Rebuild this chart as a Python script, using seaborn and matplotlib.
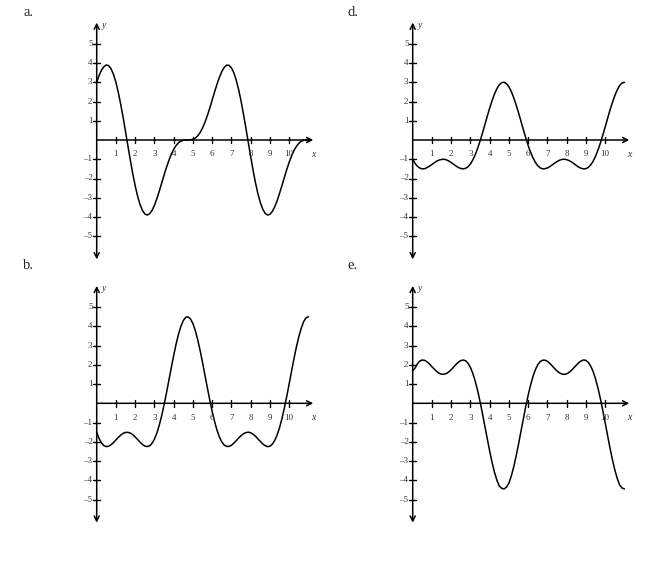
import matplotlib
matplotlib.use('Agg')
import matplotlib.pyplot as plt
import seaborn as sns
import pandas as pd

# sample positions along x: quarter steps and the points halfway between them
x_quarter = [0.0, 0.25, 0.5, 0.75, 1.0, 1.25, 1.5, 1.75, 2.0, 2.25, 2.5, 2.75,
             3.0, 3.25, 3.5, 3.75, 4.0, 4.25, 4.5, 4.75, 5.0, 5.25, 5.5, 5.75,
             6.0, 6.25, 6.5, 6.75, 7.0, 7.25, 7.5, 7.75, 8.0, 8.25, 8.5, 8.75,
             9.0, 9.25, 9.5, 9.75, 10.0, 10.25, 10.5, 10.75, 11.0]
x_mid = [0.125, 0.375, 0.625, 0.875, 1.125, 1.375, 1.625, 1.875, 2.125, 2.375, 2.625,
         2.875, 3.125, 3.375, 3.625, 3.875, 4.125, 4.375, 4.625, 4.875, 5.125, 5.375,
         5.625, 5.875, 6.125, 6.375, 6.625, 6.875, 7.125, 7.375, 7.625, 7.875, 8.125,
         8.375, 8.625, 8.875, 9.125, 9.375, 9.625, 9.875, 10.125, 10.375, 10.625, 10.875]

# curve values
curve_a_q = [3.00, 3.63, 3.90, 3.69, 2.99, 1.84, 0.42, -1.06, -2.38, -3.35, -3.84, -3.83,
             -3.39, -2.66, -1.82, -1.06, -0.48, -0.14, -0.01, 0.00, 0.04, 0.22, 0.63, 1.27,
             2.08, 2.90, 3.56, 3.89, 3.75, 3.10, 2.02, 0.62, -0.87, -2.23, -3.25, -3.81,
             -3.86, -3.47, -2.77, -1.94, -1.15, -0.54, -0.17, -0.02, 0.00]
curve_a_m = [3.35, 3.81, 3.86, 3.40, 2.46, 1.16, -0.33, -1.76, -2.92, -3.66, -3.90,
             -3.66, -3.05, -2.24, -1.42, -0.74, -0.28, -0.06, 0.00, 0.01, 0.10, 0.39,
             0.93, 1.66, 2.50, 3.26, 3.77, 3.88, 3.49, 2.61, 1.34, -0.13, -1.58,
             -2.79, -3.59, -3.90, -3.71, -3.15, -2.36, -1.53, -0.82, -0.33, -0.07, 0.00]

curve_b_q = [-1.50, -2.06, -2.25, -2.15, -1.90, -1.65, -1.51, -1.55, -1.75, -2.02, -2.22, -2.21,
             -1.86, -1.14, -0.08, 1.20, 2.49, 3.59, 4.30, 4.49, 4.14, 3.29, 2.11, 0.80,
             -0.43, -1.40, -2.01, -2.24, -2.18, -1.94, -1.68, -1.52, -1.53, -1.71, -1.98, -2.20,
             -2.23, -1.93, -1.26, -0.24, 1.02, 2.33, 3.46, 4.24, 4.50]
curve_b_m = [-1.83, -2.20, -2.23, -2.04, -1.77, -1.56, -1.51, -1.63, -1.88, -2.14, -2.25,
             -2.08, -1.55, -0.65, 0.54, 1.85, 3.08, 4.00, 4.47, 4.38, 3.77, 2.73,
             1.45, 0.16, -0.95, -1.75, -2.17, -2.24, -2.07, -1.80, -1.58, -1.50, -1.61,
             -1.85, -2.11, -2.25, -2.12, -1.64, -0.79, 0.37, 1.68, 2.93, 3.90, 4.44]

curve_d_q = [-1.00, -1.37, -1.50, -1.43, -1.27, -1.10, -1.01, -1.03, -1.17, -1.35, -1.48, -1.47,
             -1.24, -0.76, -0.05, 0.80, 1.66, 2.39, 2.87, 3.00, 2.76, 2.19, 1.41, 0.53,
             -0.29, -0.93, -1.34, -1.50, -1.45, -1.29, -1.12, -1.01, -1.02, -1.14, -1.32, -1.47,
             -1.49, -1.29, -0.84, -0.16, 0.68, 1.56, 2.31, 2.83, 3.00]
curve_d_m = [-1.22, -1.46, -1.49, -1.36, -1.18, -1.04, -1.00, -1.09, -1.26, -1.43, -1.50,
             -1.39, -1.03, -0.43, 0.36, 1.24, 2.05, 2.67, 2.98, 2.92, 2.51, 1.82,
             0.97, 0.11, -0.64, -1.17, -1.45, -1.49, -1.38, -1.20, -1.05, -1.00, -1.07,
             -1.23, -1.41, -1.50, -1.42, -1.10, -0.52, 0.25, 1.12, 1.95, 2.60, 2.96]

curve_e_q = [1.70, 2.06, 2.25, 2.15, 1.90, 1.65, 1.51, 1.55, 1.75, 2.02, 2.22, 2.21,
             1.86, 1.14, 0.08, -1.20, -2.49, -3.59, -4.30, -4.45, -4.14, -3.29, -2.11, -0.80,
             0.43, 1.40, 2.01, 2.24, 2.18, 1.94, 1.68, 1.52, 1.53, 1.71, 1.98, 2.20,
             2.23, 1.93, 1.26, 0.24, -1.02, -2.33, -3.46, -4.24, -4.45]
curve_e_m = [1.83, 2.20, 2.23, 2.04, 1.77, 1.56, 1.51, 1.63, 1.88, 2.14, 2.25,
             2.08, 1.55, 0.65, -0.54, -1.85, -3.08, -4.00, -4.42, -4.35, -3.77, -2.73,
             -1.45, -0.16, 0.95, 1.75, 2.17, 2.24, 2.07, 1.80, 1.58, 1.50, 1.61,
             1.85, 2.11, 2.25, 2.12, 1.64, 0.79, -0.37, -1.68, -2.93, -3.90, -4.40]

x_ticks = [1, 2, 3, 4, 5, 6, 7, 8, 9, 10]
y_ticks = [-5, -4, -3, -2, -1, 1, 2, 3, 4, 5]

panel_letters = ['a.', 'd.', 'b.', 'e.']
panel_curves = [(curve_a_q, curve_a_m), (curve_d_q, curve_d_m),
                (curve_b_q, curve_b_m), (curve_e_q, curve_e_m)]

sns.set_style('white')
plt.rcParams['font.family'] = ['Liberation Serif', 'DejaVu Serif']

W, H = 653, 568
U = 19.25  # pixels per unit
# origin pixel for each panel, and where its letter sits
origins = [(96.7, 140.0), (412.7, 140.0), (96.7, 403.3), (412.7, 403.3)]
letter_pos = [(23, 13), (347, 13), (23, 266), (347, 266)]

fig = plt.figure(figsize=(W / 100, H / 100), dpi=100)

XMIN, XMAX, YMIN, YMAX = -1.2, 11.8, -6.6, 6.6

for (ox, oy), (cq, cm), letter, (lx, ly) in zip(origins, panel_curves, panel_letters, letter_pos):
    left = ox + XMIN * U
    top = oy - YMAX * U
    w = (XMAX - XMIN) * U
    h = (YMAX - YMIN) * U
    ax = fig.add_axes([left / W, 1 - (top + h) / H, w / W, h / H])
    ax.set_xlim(XMIN, XMAX)
    ax.set_ylim(YMIN, YMAX)
    ax.axis('off')

    # axes with arrow heads
    ax.annotate('', xy=(11.25, 0), xytext=(0, 0),
                arrowprops=dict(arrowstyle='->', lw=1.1, color='black',
                                shrinkA=0, shrinkB=0, mutation_scale=9))
    ax.annotate('', xy=(0, 6.1), xytext=(0, -6.2),
                arrowprops=dict(arrowstyle='<->', lw=1.1, color='black',
                                shrinkA=0, shrinkB=0, mutation_scale=9))

    for t in x_ticks:
        ax.plot([t, t], [-0.17, 0.17], color='black', lw=1.0)
        ax.text(t, -0.74, str(t), ha='center', va='center', fontsize=6.5, color='#333333')
    for t in y_ticks:
        ax.plot([-0.17, 0.17], [t, t], color='black', lw=1.0)
        lab = str(t).replace('-', '\u2013')
        ax.text(-0.22, t, lab, ha='right', va='center', fontsize=6.5, color='#333333')

    ax.text(11.24, -0.74, 'x', ha='center', va='center', fontsize=7, style='italic', color='#333333')
    ax.text(0.25, 5.95, 'y', ha='left', va='center', fontsize=7, style='italic', color='#333333')

    df = pd.DataFrame({'x': x_quarter + x_mid, 'y': cq + cm}).sort_values('x')
    sns.lineplot(data=df, x='x', y='y', ax=ax, color='black', lw=1.1)

    fig.text(lx / W, 1 - ly / H, letter, ha='left', va='center', fontsize=10.5)

fig.savefig('out.png', dpi=100)
